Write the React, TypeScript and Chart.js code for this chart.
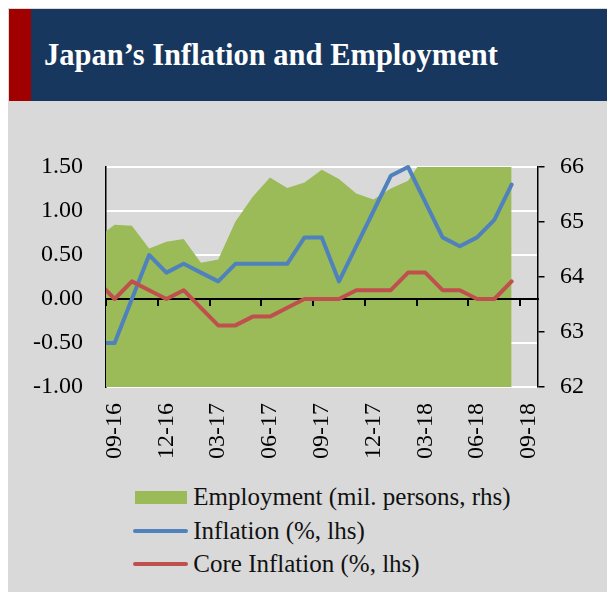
import React, { useEffect, useRef } from 'react';
import { Chart, registerables } from 'chart.js';

Chart.register(...registerables);

// ---- data ----
const allMonths = [
  '08-16', '09-16', '10-16', '11-16', '12-16', '01-17', '02-17', '03-17', '04-17',
  '05-17', '06-17', '07-17', '08-17', '09-17', '10-17', '11-17', '12-17', '01-18',
  '02-18', '03-18', '04-18', '05-18', '06-18', '07-18', '08-18', '09-18',
];
const dataMonths = allMonths.slice(0, 25);
const tickLabels = ['09-16', '12-16', '03-17', '06-17', '09-17', '12-17', '03-18', '06-18', '09-18'];

const employment = [
  64.71, 64.95, 64.93, 64.52, 64.64, 64.69, 64.26, 64.32, 65.01, 65.46, 65.81, 65.62,
  65.72, 65.95, 65.78, 65.52, 65.41, 65.61, 65.75, 66.21, 66.5, 66.6, 66.8, 66.7, 66.6,
];
const inflation = [
  -0.5, -0.5, 0.0, 0.5, 0.3, 0.4, 0.3, 0.2, 0.4, 0.4, 0.4, 0.4,
  0.7, 0.7, 0.2, 0.6, 1.0, 1.4, 1.5, 1.1, 0.7, 0.6, 0.7, 0.9, 1.3,
];
const coreInflation = [
  0.2, 0.0, 0.2, 0.1, 0.0, 0.1, -0.1, -0.3, -0.3, -0.2, -0.2, -0.1,
  0.0, 0.0, 0.0, 0.1, 0.1, 0.1, 0.3, 0.3, 0.1, 0.1, 0.0, 0.0, 0.2,
];
const leftTicks = [-1, -0.5, 0, 0.5, 1, 1.5];
const rightTicks = [62, 63, 64, 65, 66];

const seriesNames = ['Employment (mil. persons, rhs)', 'Inflation (%, lhs)', 'Core Inflation (%, lhs)'];
const seriesColors = ['#9bbb59', '#4f81bd', '#c0504d'];

const FONT = "'Liberation Serif', 'Times New Roman', serif";

const axisOverArea = {
  id: 'axisOverArea',
  afterDatasetDraw(chart: any, args: any) {
    if (args.index === 0 && chart.scales.x0) {
      chart.scales.x0.draw(chart.chartArea);
    }
  },
};

export default function App() {
  const ref = useRef<HTMLCanvasElement>(null);

  useEffect(() => {
    const canvas = ref.current;
    if (!canvas) return;
    const xMin = allMonths.indexOf(tickLabels[0]) - 0.5;
    const xMax = allMonths.indexOf(tickLabels[tickLabels.length - 1]) + 0.5;
    const lineClip = { left: 0, top: 4, right: 4, bottom: 4 };
    const chart = new Chart(canvas, {
      type: 'line',
      data: {
        labels: dataMonths.map((m) => allMonths.indexOf(m)),
        datasets: [
          {
            label: seriesNames[0],
            data: employment,
            yAxisID: 'y1',
            fill: 'start',
            backgroundColor: seriesColors[0],
            borderColor: 'rgba(0,0,0,0)',
            borderWidth: 0,
            pointRadius: 0,
            tension: 0,
            order: 3,
          },
          {
            label: seriesNames[1],
            data: inflation,
            yAxisID: 'y',
            fill: false,
            borderColor: seriesColors[1],
            backgroundColor: seriesColors[1],
            borderWidth: 4,
            borderJoinStyle: 'round',
            borderCapStyle: 'round',
            pointRadius: 0,
            tension: 0,
            order: 2,
            clip: lineClip,
          },
          {
            label: seriesNames[2],
            data: coreInflation,
            yAxisID: 'y',
            fill: false,
            borderColor: seriesColors[2],
            backgroundColor: seriesColors[2],
            borderWidth: 4,
            borderJoinStyle: 'round',
            borderCapStyle: 'round',
            pointRadius: 0,
            tension: 0,
            order: 1,
            clip: lineClip,
          },
        ],
      } as any,
      options: {
        animation: false,
        responsive: false,
        devicePixelRatio: 1,
        layout: { padding: { top: 65, left: 0, right: 0, bottom: 0 } },
        plugins: {
          legend: { display: false },
          tooltip: { enabled: false },
        },
        scales: {
          x: {
            type: 'linear',
            position: 'bottom',
            min: xMin,
            max: xMax,
            afterBuildTicks: (s: any) => {
              s.ticks = tickLabels.map((l) => ({ value: allMonths.indexOf(l) }));
            },
            afterFit: (s: any) => {
              s.height = 90;
            },
            grid: { display: false, drawTicks: false },
            border: { display: false },
            ticks: {
              autoSkip: false,
              minRotation: 90,
              maxRotation: 90,
              padding: 16,
              color: '#000',
              font: { family: FONT, size: 24 },
              callback: (v: any) => allMonths[Math.round(Number(v))] ?? '',
            },
          },
          x0: {
            type: 'linear',
            axis: 'x',
            position: { y: 0 },
            min: xMin,
            max: xMax,
            afterBuildTicks: (s: any) => {
              s.ticks = tickLabels.map((l) => ({ value: allMonths.indexOf(l) - 0.5 }));
            },
            grid: {
              drawOnChartArea: false,
              drawTicks: true,
              tickLength: 6,
              color: '#000',
              lineWidth: 2,
              tickWidth: 2,
            },
            border: { display: true, color: '#000', width: 2 },
            ticks: { display: false },
          },
          y: {
            type: 'linear',
            position: 'left',
            min: leftTicks[0],
            max: leftTicks[leftTicks.length - 1],
            afterBuildTicks: (s: any) => {
              s.ticks = leftTicks.map((v) => ({ value: v }));
            },
            afterFit: (s: any) => {
              s.width = 98;
            },
            grid: { color: '#ffffff', lineWidth: 2, drawTicks: false },
            border: { display: true, color: '#000', width: 1.5 },
            ticks: {
              padding: 23,
              color: '#000',
              font: { family: FONT, size: 24 },
              callback: (v: any) => Number(v).toFixed(2),
            },
          },
          y1: {
            type: 'linear',
            position: 'right',
            min: rightTicks[0],
            max: rightTicks[rightTicks.length - 1],
            afterBuildTicks: (s: any) => {
              s.ticks = rightTicks.map((v) => ({ value: v }));
            },
            afterFit: (s: any) => {
              s.width = 77.5;
            },
            grid: {
              drawOnChartArea: false,
              drawTicks: true,
              tickLength: 7,
              color: '#000',
              lineWidth: 1.5,
            },
            border: { display: true, color: '#000', width: 1.5 },
            ticks: {
              padding: 15.5,
              color: '#000',
              font: { family: FONT, size: 24 },
              callback: (v: any) => String(v),
            },
          },
        },
      } as any,
      plugins: [axisOverArea],
    });
    return () => chart.destroy();
  }, []);

  const rowCenters = [489, 522.7, 556.3];

  return (
    <div
      style={{
        position: 'relative',
        width: 607,
        height: 584,
        background: '#d9d9d9',
        fontFamily: FONT,
        overflow: 'hidden',
      }}
    >
      <div
        style={{
          position: 'absolute',
          left: 1.3,
          top: 1.3,
          width: 606,
          height: 91.5,
          background: '#17375e',
          display: 'flex',
          alignItems: 'center',
        }}
      >
        <div style={{ width: 21.7, height: '100%', background: '#a00000' }} />
        <div
          style={{
            marginLeft: 13,
            color: '#ffffff',
            fontWeight: 'bold',
            fontSize: 30.5,
            whiteSpace: 'nowrap',
          }}
        >
          Japan’s Inflation and Employment
        </div>
      </div>
      <canvas
        ref={ref}
        width={607}
        height={375}
        style={{ position: 'absolute', left: 0, top: 94, width: 607, height: 375 }}
      />
      {seriesNames.map((name, i) => (
        <div
          key={name}
          style={{
            position: 'absolute',
            left: 0,
            top: rowCenters[i] - 17,
            height: 34,
            display: 'flex',
            alignItems: 'center',
            whiteSpace: 'nowrap',
          }}
        >
          <span
            style={{
              display: 'inline-block',
              marginLeft: i === 0 ? 127 : 125.3,
              width: i === 0 ? 52 : 55,
              height: i === 0 ? 13 : 4,
              borderRadius: i === 0 ? 0 : 2,
              background: seriesColors[i],
            }}
          />
          <span
            style={{
              marginLeft: i === 0 ? 6.3 : 5,
              fontSize: 25,
              color: '#111',
              lineHeight: 'normal',
            }}
          >
            {name}
          </span>
        </div>
      ))}
    </div>
  );
}
